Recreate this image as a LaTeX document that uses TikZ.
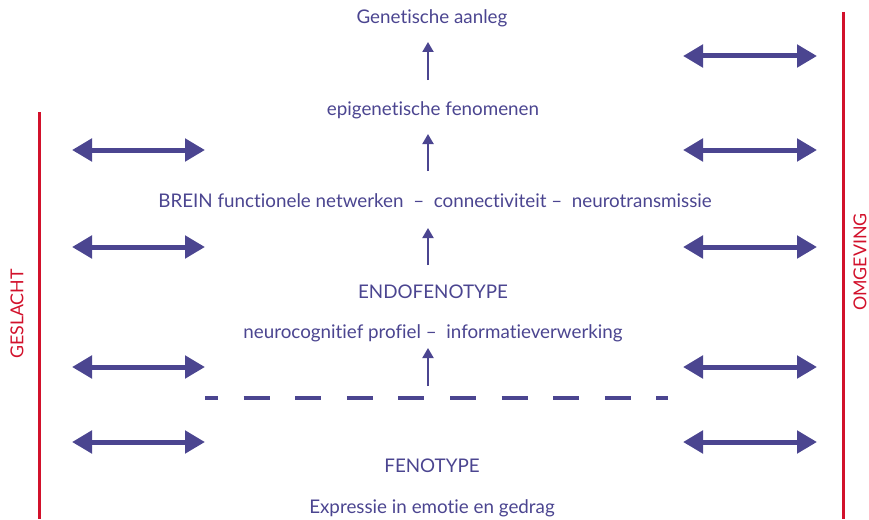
\documentclass[tikz,border=0pt]{standalone}
\usepackage{fontspec}
\setmainfont{Lato}[Ligatures=NoCommon]
\usetikzlibrary{arrows.meta,positioning}
\definecolor{paars}{RGB}{75,69,144}
\definecolor{rood}{RGB}{210,17,43}

\begin{document}
\begin{tikzpicture}[x=1pt,y=-1pt,
    niveau/.style={text=paars,font=\fontsize{18.8}{22}\selectfont,inner sep=0pt},
    zijlabel/.style={text=rood,font=\fontsize{17.8}{21}\selectfont,rotate=90,inner sep=0pt},
    dubbel/.style={draw=paars,line width=5pt,
      {Triangle[length=20pt,width=22pt]}-{Triangle[length=20pt,width=22pt]}},
    omhoog/.style={draw=paars,line width=2pt,-{Triangle[length=10pt,width=11pt]}},
    grens/.style={draw=rood,line width=3pt}]

    \useasboundingbox (0,0) rectangle (869,519);

    % =====================
    % Levels
    % =====================
    \node[niveau] (gen)   at (432,18)  {Genetische aanleg};
    \node[niveau] (epi)   at (433,110) {epigenetische fenomenen};
    \node[niveau] (brein) at (435,201) {BREIN functionele netwerken~~–~~connectiviteit~–~~neurotransmissie};
    \node[niveau] (endo)  at (433,292) {ENDOFENOTYPE};
    \node[niveau] (neuro) at (433,333) {neurocognitief profiel~–~~informatieverwerking};
    \node[niveau] (feno)  at (432,466) {FENOTYPE};
    \node[niveau] (expr)  at (432,508) {Expressie in emotie en gedrag};

    % =====================
    % Side borders
    % =====================
    \coordinate (links-top) at (39,112);
    \coordinate (links-bot) at (39,519);
    \coordinate (rechts-top) at (843,12);
    \coordinate (rechts-bot) at (843,519);
    \draw[grens] (links-top) -- (links-bot);
    \draw[grens] (rechts-top) -- (rechts-bot);
    \node[zijlabel] (geslacht) at (17,314) {GESLACHT};
    \node[zijlabel] (omgeving) at (860,262) {OMGEVING};

    % =====================
    % Upward arrows
    % =====================
    \draw[omhoog] (428,80) coordinate (p1) -- (428,42) coordinate (q1);
    \draw[omhoog] (428,171) coordinate (p2) -- (428,134) coordinate (q2);
    \draw[omhoog] (428,265) coordinate (p3) -- (428,228) coordinate (q3);
    \draw[omhoog] (428,386) coordinate (p4) -- (428,348) coordinate (q4);

    % =====================
    % Double arrows
    % =====================
    \foreach \y in {150,247,367,442} {
      \draw[dubbel] (72,\y) -- (205,\y);
    }
    \foreach \y in {56,150,247,367,442} {
      \draw[dubbel] (683,\y) -- (817,\y);
    }

    % =====================
    % Dashed line
    % =====================
    \coordinate (streep-l) at (205,398);
    \coordinate (streep-r) at (668,398);
    \draw[paars,line width=4pt,dash pattern=on 26pt off 25.6pt,dash phase=13pt]
      (streep-l) -- (streep-r);

\end{tikzpicture}
\end{document}
